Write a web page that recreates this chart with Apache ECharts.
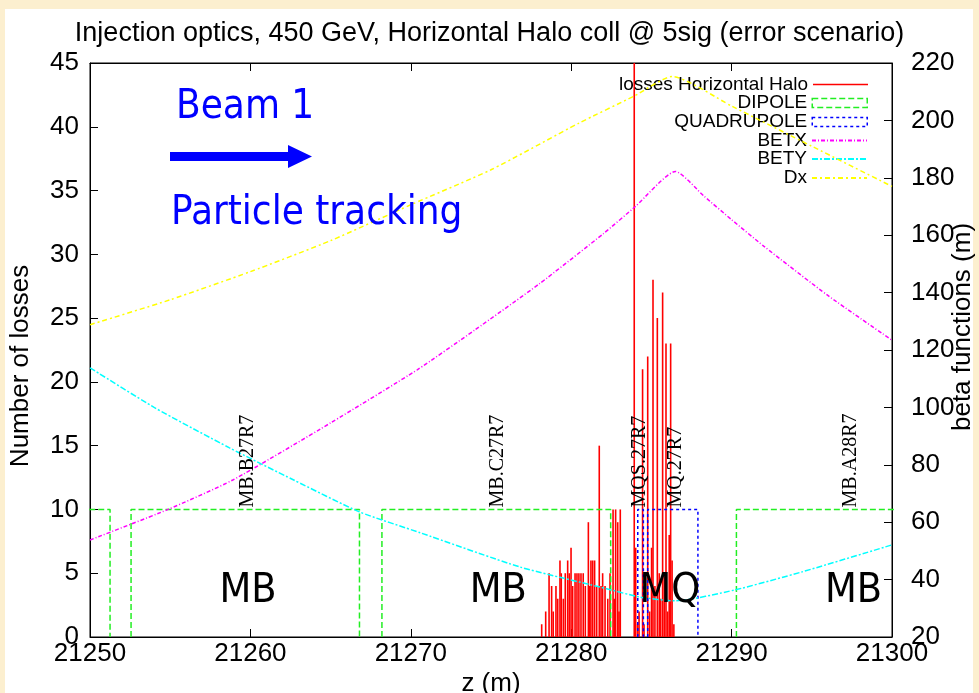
<!DOCTYPE html>
<html>
<head>
<meta charset="utf-8">
<title>Injection optics, 450 GeV</title>
<script src="https://cdn.jsdelivr.net/npm/echarts@6/dist/echarts.min.js"></script>
<style>
html,body{margin:0;padding:0;background:#fcefcf;}
#main{width:979px;height:693px;}
</style>
</head>
<body>
<div id="main"></div>
<script>
var titleText="Injection optics, 450 GeV, Horizontal Halo coll @ 5sig (error scenario)";
// losses per bin (z in m, count)
var lossZ=[21278.16,21278.41,21278.62,21278.78,21278.88,21279.05,21279.16,21279.30,21279.38,21279.51,
	21279.63,21279.78,21279.88,21279.99,21280.09,21280.24,21280.36,21280.48,21280.61,21280.75,
	21280.88,21281.07,21281.15,21281.23,21281.34,21281.46,21281.59,21281.75,21281.86,21281.96,
	21282.11,21282.28,21282.42,21282.61,21282.69,21282.77,21282.90,21282.98,21283.06,
	21283.93,21284.02,21284.14,21284.23,21284.45,21284.54,21284.77,21284.89,21285.01,21285.10,
	21285.22,21285.37,21285.49,21285.58,21285.70,21285.80,21285.91,21286.01,21286.11,21286.20,
	21286.29,21286.40];
var lossN=[1,2,5,4,2,4,3,6,5,3,
	5,6,5,7,4,5,5,5,5,5,
	4,9,4,6,6,6,4,15,4,5,
	4,3,5,10,3,10,9,2,10,
	48,7,1,2,21,1,22,2,7,28,
	4,25,5,3,27,5,23,2,8,23,
	6,1];
// magnets
var dipoleStart=[21245,21252.56,21268.2,21290.3];
var dipoleEnd=[21251.25,21266.8,21282.46,21305];
var quadStart=[21284.15,21284.77];
var quadEnd=[21284.5,21287.9];
var magnetTop=10;
// optics
var betxZ=[21250,21254.8,21258.9,21265,21270.4,21274,21278,21282,21284,21286.5,21288.3,21290,21292,21296,21300];
var betxV=[53.8,64.3,74.7,94.6,113.1,127,143,160.5,170,182.2,173.5,165.4,156.2,139,123.4];
var betyZ=[21250,21254,21258.7,21262.7,21266.8,21270.6,21276.8,21281.8,21284.3,21286.5,21290.2,21294.4,21300];
var betyV=[113.8,100,85.9,74.7,63.6,56.3,44.4,37.4,33.9,32.6,36.4,42.7,52.1];
var dxZ=[21250,21255,21260,21265,21270,21275,21280.5,21283.9,21286.3,21290,21295,21300];
var dxV=[128.8,137.5,147.3,158.1,170.6,182.8,199.1,208.4,215.3,205,191,177];
// element names
var elemName=["MB.B27R7","MB.C27R7","MQS.27R7","MQ.27R7","MB.A28R7"];
var elemZ=[21259.85,21275.4,21284.3,21286.5,21297.45];
var sectName=["MB","MB","MQ","MB"];
var sectZ=[21259.85,21275.45,21286.15,21297.6];
var sectY=3.6;

function pairs(a,b){
	var d=[];
	for(var i=0;i<a.length;i++){
		d.push([a[i],b[i]]);
	}
	return d;
}
function boxes(s,e,h){
	var d=[];
	for(var i=0;i<s.length;i++){
		d.push([s[i],0],[s[i],h],[e[i],h],[e[i],0],[e[i],"-"]);
	}
	return d;
}
function labelData(z,names,y){
	var d=[];
	for(var i=0;i<z.length;i++){
		d.push({value:[z[i],y],name:names[i]});
	}
	return d;
}
var sans="Liberation Sans";
var big="\"DejaVu Sans Condensed\",\"Liberation Sans\"";
function legendItem(name,top,extra){
	var l={
		data:[name],right:111,top:top,orient:"vertical",align:"right",
		itemWidth:55,itemHeight:9,padding:0,selectedMode:false,
		textStyle:{fontFamily:sans,fontSize:19,color:"#000"}
	};
	for(var k in extra){
		l[k]=extra[k];
	}
	return l;
}
var chart=echarts.init(document.getElementById("main"));
var option={
	animation:false,
	backgroundColor:"#fcefcf",
	title:{text:titleText,left:"center",top:15,textStyle:{fontFamily:sans,fontSize:27,fontWeight:"normal",color:"#000"}},
	graphic:[
		{type:"rect",z:-10,shape:{x:5,y:9,width:968,height:684},style:{fill:"#fff"}},
		{type:"text",z:10,style:{text:"Beam 1",x:176,y:108,fill:"#0000ff",font:"40px "+big,verticalAlign:"middle"}},
		{type:"polygon",z:10,shape:{points:[[170,152],[288,152],[288,145],[312,156.5],[288,168],[288,161],[170,161]]},style:{fill:"#0000ff"}},
		{type:"text",z:10,style:{text:"Particle tracking",x:171,y:214,fill:"#0000ff",font:"40px "+big,verticalAlign:"middle"}}
	],
	legend:[
		legendItem("losses Horizontal Halo",75,{icon:"rect",itemHeight:1.5}),
		legendItem("DIPOLE",93.5,{icon:"rect",itemStyle:{color:"transparent",borderColor:"#22ee22",borderWidth:1.5,borderType:"dashed"}}),
		legendItem("QUADRUPOLE",112.5,{icon:"rect",itemStyle:{color:"transparent",borderColor:"#0000ff",borderWidth:1.5,borderType:[3,3]}}),
		legendItem("BETX",131,{itemStyle:{opacity:0}}),
		legendItem("BETY",149.5,{itemStyle:{opacity:0}}),
		legendItem("Dx",168.5,{itemStyle:{opacity:0}})
	],
	grid:{left:90,right:87,top:63,bottom:56,show:true,borderColor:"#000",borderWidth:1,backgroundColor:"#fff",outerBoundsMode:"none"},
	xAxis:[{
		type:"value",min:21250,max:21300,interval:10,position:"bottom",
		name:"z (m)",nameLocation:"middle",nameGap:34,nameMoveOverlap:false,
		nameTextStyle:{fontFamily:sans,fontSize:26,color:"#000"},
		axisLine:{lineStyle:{color:"#000",width:1}},
		axisTick:{inside:true,length:8,lineStyle:{color:"#000"}},
		axisLabel:{fontFamily:sans,fontSize:26,color:"#000",margin:4,formatter:function(v){return String(v);}},
		splitLine:{show:false}
	},{
		type:"value",min:21250,max:21300,interval:10,position:"top",
		axisLine:{lineStyle:{color:"#000",width:1}},
		axisTick:{inside:true,length:8,lineStyle:{color:"#000"}},
		axisLabel:{show:false},
		splitLine:{show:false}
	}],
	yAxis:[{
		type:"value",min:0,max:45,interval:5,position:"left",
		name:"Number of losses",nameLocation:"middle",nameGap:56,nameRotate:90,nameMoveOverlap:false,
		nameTextStyle:{fontFamily:sans,fontSize:26,color:"#000",padding:[0,32,0,0]},
		axisLine:{show:true,lineStyle:{color:"#000",width:1}},
		axisTick:{show:true,inside:true,length:8,lineStyle:{color:"#000"}},
		axisLabel:{fontFamily:sans,fontSize:26,color:"#000",margin:11},
		splitLine:{show:false}
	},{
		type:"value",min:20,max:220,interval:20,position:"right",
		name:"beta functions (m)",nameLocation:"middle",nameGap:58,nameRotate:90,nameMoveOverlap:false,
		nameTextStyle:{fontFamily:sans,fontSize:26,color:"#000",padding:[0,0,0,46]},
		axisLine:{show:true,lineStyle:{color:"#000",width:1}},
		axisTick:{show:true,inside:true,length:8,lineStyle:{color:"#000"}},
		axisLabel:{fontFamily:sans,fontSize:26,color:"#000",margin:19},
		splitLine:{show:false}
	}],
	series:[{
		name:"losses Horizontal Halo",type:"bar",data:pairs(lossZ,lossN),
		barWidth:1.6,itemStyle:{color:"#ff0000"},clip:true,z:3
	},{
		name:"DIPOLE",type:"line",data:boxes(dipoleStart,dipoleEnd,magnetTop),
		symbol:"none",clip:true,lineStyle:{color:"#22ee22",width:1.5,type:[6,3]},itemStyle:{color:"#22ee22"},z:4
	},{
		name:"QUADRUPOLE",type:"line",data:boxes(quadStart,quadEnd,magnetTop),
		symbol:"none",clip:true,lineStyle:{color:"#0000ff",width:1.5,type:[3,3]},itemStyle:{color:"#0000ff"},z:4
	},{
		name:"BETX",type:"line",yAxisIndex:1,data:pairs(betxZ,betxV),smooth:0.2,
		symbol:"none",lineStyle:{color:"#ff00ff",width:1.5,type:[4,2,1,2]},itemStyle:{color:"#ff00ff"},z:4
	},{
		name:"BETY",type:"line",yAxisIndex:1,data:pairs(betyZ,betyV),smooth:0.2,
		symbol:"none",lineStyle:{color:"#00ffff",width:1.5,type:[6,2,2,2]},itemStyle:{color:"#00ffff"},z:4
	},{
		name:"Dx",type:"line",yAxisIndex:1,data:pairs(dxZ,dxV),smooth:0.2,
		symbol:"none",lineStyle:{color:"#ffff00",width:1.5,type:[5,3,2,3]},itemStyle:{color:"#ffff00"},z:4
	},{
		name:"elements",type:"scatter",data:labelData(elemZ,elemName,magnetTop),
		symbolSize:0.01,silent:true,itemStyle:{color:"rgba(0,0,0,0)",opacity:1},z:6,
		label:{show:true,position:"top",distance:2,rotate:90,align:"left",verticalAlign:"middle",opacity:1,
			formatter:"{b}",fontFamily:"Liberation Serif",fontSize:20,color:"#000",textBorderWidth:0}
	},{
		name:"sections",type:"scatter",data:labelData(sectZ,sectName,sectY),
		symbolSize:0.01,silent:true,itemStyle:{color:"rgba(0,0,0,0)",opacity:1},z:6,
		label:{show:true,position:"top",distance:0,align:"center",verticalAlign:"middle",opacity:1,
			formatter:"{b}",fontFamily:big,fontSize:41,color:"#000",textBorderWidth:0}
	}]
};
chart.setOption(option);
</script>
</body>
</html>
